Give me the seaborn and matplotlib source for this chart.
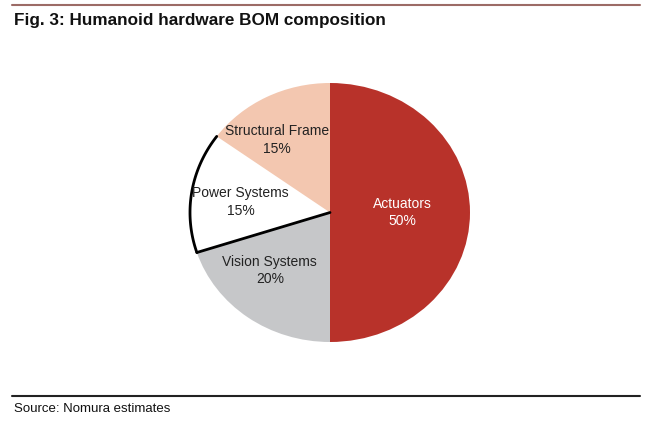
import numpy as np
import matplotlib
matplotlib.use("Agg")
import matplotlib.pyplot as plt
import seaborn as sns

# BOM shares (%)
components = ["Actuators", "Vision Systems", "Power Systems", "Structural Frame"]
shares = [50, 20, 15, 15]

colors = ["#B8322A", "#C6C7C9", "#FFFFFF", "#F3C7B0"]
# label placement (x, y in pie radius units), hand-tuned like the original
label_pos = [(0.52, 0.0), (-0.43, -0.45), (-0.64, 0.08), (-0.38, 0.56)]

sns.set_style("white")
plt.rcParams['font.family'] = ['Liberation Sans', 'DejaVu Sans']

fig = plt.figure(figsize=(6.45, 4.23), dpi=100)
W, H = 645, 423

# pie axes, slightly wider than tall as in the original
ax = fig.add_axes([190 / W, (H - 342) / H, 280 / W, 259 / H])
wedges, _ = ax.pie(shares, colors=colors, startangle=90, counterclock=False,
                   wedgeprops=dict(linewidth=0))
ax.set_aspect('auto')
ax.set_xlim(-1, 1)
ax.set_ylim(-1, 1)
ax.axis('off')

# black outline on the power systems slice (outer arc + lower edge)
pw = wedges[2]
t = np.radians(np.linspace(pw.theta1, pw.theta2, 60))
ax.plot(np.cos(t), np.sin(t), color='black', lw=2, clip_on=False,
        solid_capstyle='round')
lower = np.radians(max(pw.theta1, pw.theta2))
ax.plot([0, np.cos(lower)], [0, np.sin(lower)],
        color='black', lw=2, clip_on=False, solid_capstyle='round')

for name, val, (lx, ly) in zip(components, shares, label_pos):
    txt_color = 'white' if name == "Actuators" else '#222222'
    ax.text(lx, ly, f"{name}\n{val}%", ha='center', va='center',
            fontsize=10, color=txt_color, linespacing=1.3)

# header / footer
fig.add_artist(plt.Line2D([12 / W, 640 / W], [1 - 5 / H, 1 - 5 / H],
                          color='#9C6B66', lw=1.5))
fig.text(14 / W, 1 - 20 / H, "Fig. 3: Humanoid hardware BOM composition",
         fontsize=12.3, fontweight='bold', va='center', ha='left', color='#111111')
fig.add_artist(plt.Line2D([12 / W, 640 / W], [1 - 396 / H, 1 - 396 / H],
                          color='#222222', lw=1.5))
fig.text(14 / W, 1 - 409 / H, "Source: Nomura estimates",
         fontsize=9.5, va='center', ha='left', color='#111111')

fig.savefig("out.png", dpi=100)
